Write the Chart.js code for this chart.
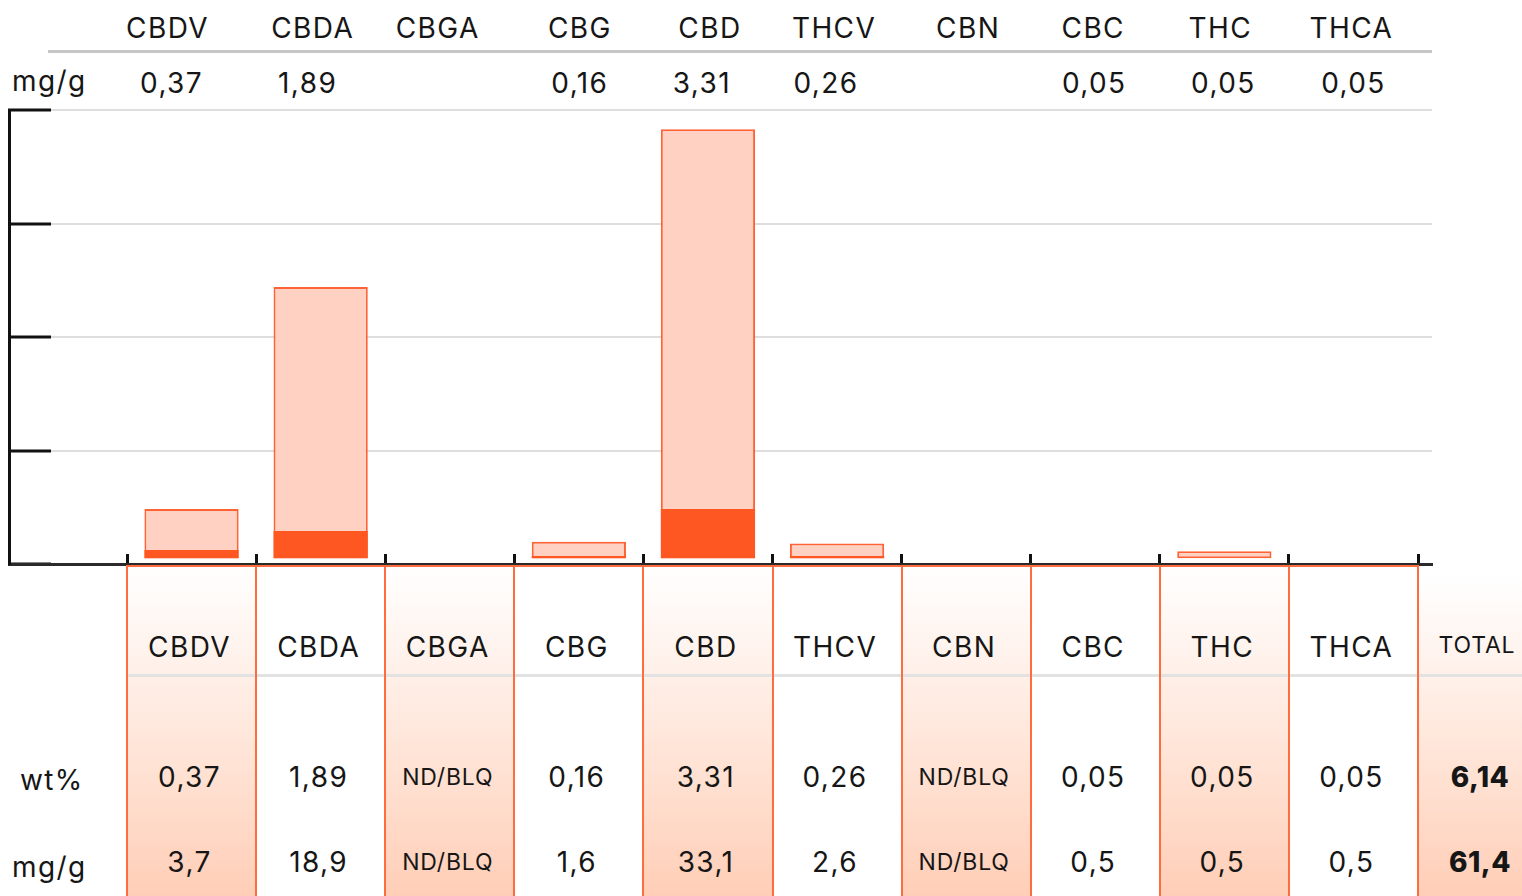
<!DOCTYPE html>
<html>
<head>
<meta charset="utf-8">
<script src="https://cdn.jsdelivr.net/npm/chart.js@4/dist/chart.umd.min.js"></script>
<style>
  html, body { margin: 0; padding: 0; background: #fff; }
  #page { position: relative; width: 1522px; height: 896px; overflow: hidden;
    font-family: Inter, 'DejaVu Sans', sans-serif; color: #161616; }
  #chart { position: absolute; left: 0; top: 100px; }
  .txt { position: absolute; transform: translate(-50%, -50%); white-space: nowrap;
    font-size: 28px; letter-spacing: 1.4px; }
  .lbl { position: absolute; transform: translateY(-50%); white-space: nowrap; font-size: 28px; letter-spacing: 1.4px; }
  .small { font-size: 23px; letter-spacing: 0.8px; }
  .bold { font-weight: 800; letter-spacing: 0.5px; }
  .col { position: absolute; top: 565px; height: 331px; }
  .shade { background: linear-gradient(#ffffff 0%, #fff1ea 30%, #ffe3d5 60%, #ffceb7 100%); }
  .hline { position: absolute; height: 0; }
  .vline { position: absolute; width: 2px; background: #ff6d3f; }
</style>
</head>
<body>
<div id="page">
  <canvas id="chart" width="1440" height="475"></canvas>
</div>
<script>
const categories = ['CBDV', 'CBDA', 'CBGA', 'CBG', 'CBD', 'THCV', 'CBN', 'CBC', 'THC', 'THCA'];
const wtPercent = [0.37, 1.89, null, 0.16, 3.31, 0.26, null, 0.05, 0.05, 0.05];
const mgPerGram = [3.7, 18.9, null, 1.6, 33.1, 2.6, null, 0.5, 0.5, 0.5];
const totalWt = 6.14;
const totalMg = 61.4;

// bar extents (unlabelled axis, 0..4)
const barBase = 0.05;
const lightTop = [0.485, 2.44, null, 0.196, 3.83, 0.18, null, null, 0.112, null];
const darkTop = [0.123, 0.29, null, 0.07, 0.485, 0.07, null, null, null, null];
const yTicks = [0, 1, 2, 3, 4];

// layout
const COL = 129.1;
const FIRST = 127;
const topNameShift = [-24, -8, -12, 1, 2, -3, 2, -2, -4, -2];
const topValueShift = [-20, -13, 0, 1, -6, -11, 0, -1, -1, 0];

const fmt = v => v == null ? 'ND/BLQ' : String(v).replace('.', ',');

const bars = (tops) => tops
  .map((t, i) => t == null ? null : { x: i + 0.5, y: [barBase, t] })
  .filter(d => d);

const chart = new Chart(document.getElementById('chart'), {
  type: 'bar',
  data: {
    datasets: [
      {
        label: 'dark',
        data: bars(darkTop),
        backgroundColor: '#ff5722',
        borderWidth: 0,
        grouped: false
      },
      {
        label: 'light',
        data: bars(lightTop),
        backgroundColor: '#ffd1c2',
        borderColor: '#ff6234',
        borderWidth: 2,
        borderSkipped: false,
        grouped: false
      }
    ]
  },
  options: {
    responsive: false,
    animation: false,
    devicePixelRatio: 1,
    barPercentage: 0.73,
    categoryPercentage: 1,
    layout: { padding: { left: 9, right: 8, top: 10, bottom: 11 } },
    plugins: { legend: { display: false }, tooltip: { enabled: false } },
    scales: {
      x: {
        type: 'linear',
        position: 'bottom',
        offset: false,
        min: (9 - FIRST) / COL,
        max: (1432 - FIRST) / COL,
        afterBuildTicks: s => { s.ticks = categories.concat(['']).map((c, i) => ({ value: i })); },
        afterFit: s => { s.height = 0; },
        ticks: { display: false },
        grid: { offset: false, drawOnChartArea: false, tickColor: '#111', tickWidth: 3, tickLength: -10 },
        border: { color: '#2a2a2a', width: 3 }
      },
      y: {
        min: 0,
        max: 4,
        afterBuildTicks: s => { s.ticks = yTicks.map(v => ({ value: v })); },
        afterFit: s => { s.width = 0; },
        ticks: { display: false },
        grid: {
          color: c => c.tick && c.tick.value === 0 ? 'rgba(0,0,0,0)' : '#dedede',
          lineWidth: 2,
          tickColor: '#111',
          tickWidth: 3,
          tickLength: -42
        },
        border: { color: '#111', width: 3 }
      }
    }
  }
});

// tables around the chart, aligned to the x scale
const page = document.getElementById('page');
const xs = chart.scales.x;
const px = v => xs.getPixelForValue(v);

function add(cls, text, x, y, extra) {
  const d = document.createElement('div');
  d.className = cls;
  d.textContent = text;
  d.style.left = x + 'px';
  d.style.top = y + 'px';
  if (extra) Object.assign(d.style, extra);
  page.appendChild(d);
  return d;
}
function box(cls, x, y, w, h, extra) {
  const d = document.createElement('div');
  d.className = cls;
  Object.assign(d.style, { left: x + 'px', top: y + 'px', width: w + 'px', height: h + 'px' }, extra || {});
  page.appendChild(d);
}

// top table
box('hline', 48, 50, 1432 - 48, 0, { borderTop: '3px solid #c6c6c6' });
add('lbl', 'mg/g', 12, 81);
categories.forEach((c, i) => {
  const cx = px(i + 0.5);
  add('txt', c, cx + topNameShift[i], 28);
  if (wtPercent[i] != null) add('txt', fmt(wtPercent[i]), cx + topValueShift[i], 83);
});

// bottom table
const right = px(categories.length);
categories.forEach((c, i) => {
  if (i % 2 === 0) box('col shade', px(i), 565, px(i + 1) - px(i), 331);
});
box('col shade', right, 575, 1522 - right, 321, { top: '575px' });
box('hline', px(0), 674, 1522 - px(0), 0, { borderTop: '3px solid #e2e2e2' });
for (let k = 0; k <= categories.length; k++) {
  box('vline', px(k) - 1, 565, 2, 331);
}
box('hline', px(0), 565, right - px(0), 0, { borderTop: '2px solid #ff6d3f' });

categories.forEach((c, i) => {
  const cx = px(i + 0.5);
  add('txt', c, cx - 2, 647);
  const nd = wtPercent[i] == null;
  add('txt' + (nd ? ' small' : ''), fmt(wtPercent[i]), cx - 2, 777);
  add('txt' + (mgPerGram[i] == null ? ' small' : ''), fmt(mgPerGram[i]), cx - 2, 862);
});
const totalX = (right + 1522) / 2;
add('txt small', 'TOTAL', totalX + 7, 645);
add('txt bold', fmt(totalWt), totalX + 10, 777);
add('txt bold', fmt(totalMg), totalX + 10, 862);
add('lbl', 'wt%', 20, 780);
add('lbl', 'mg/g', 12, 867);
</script>
</body>
</html>
